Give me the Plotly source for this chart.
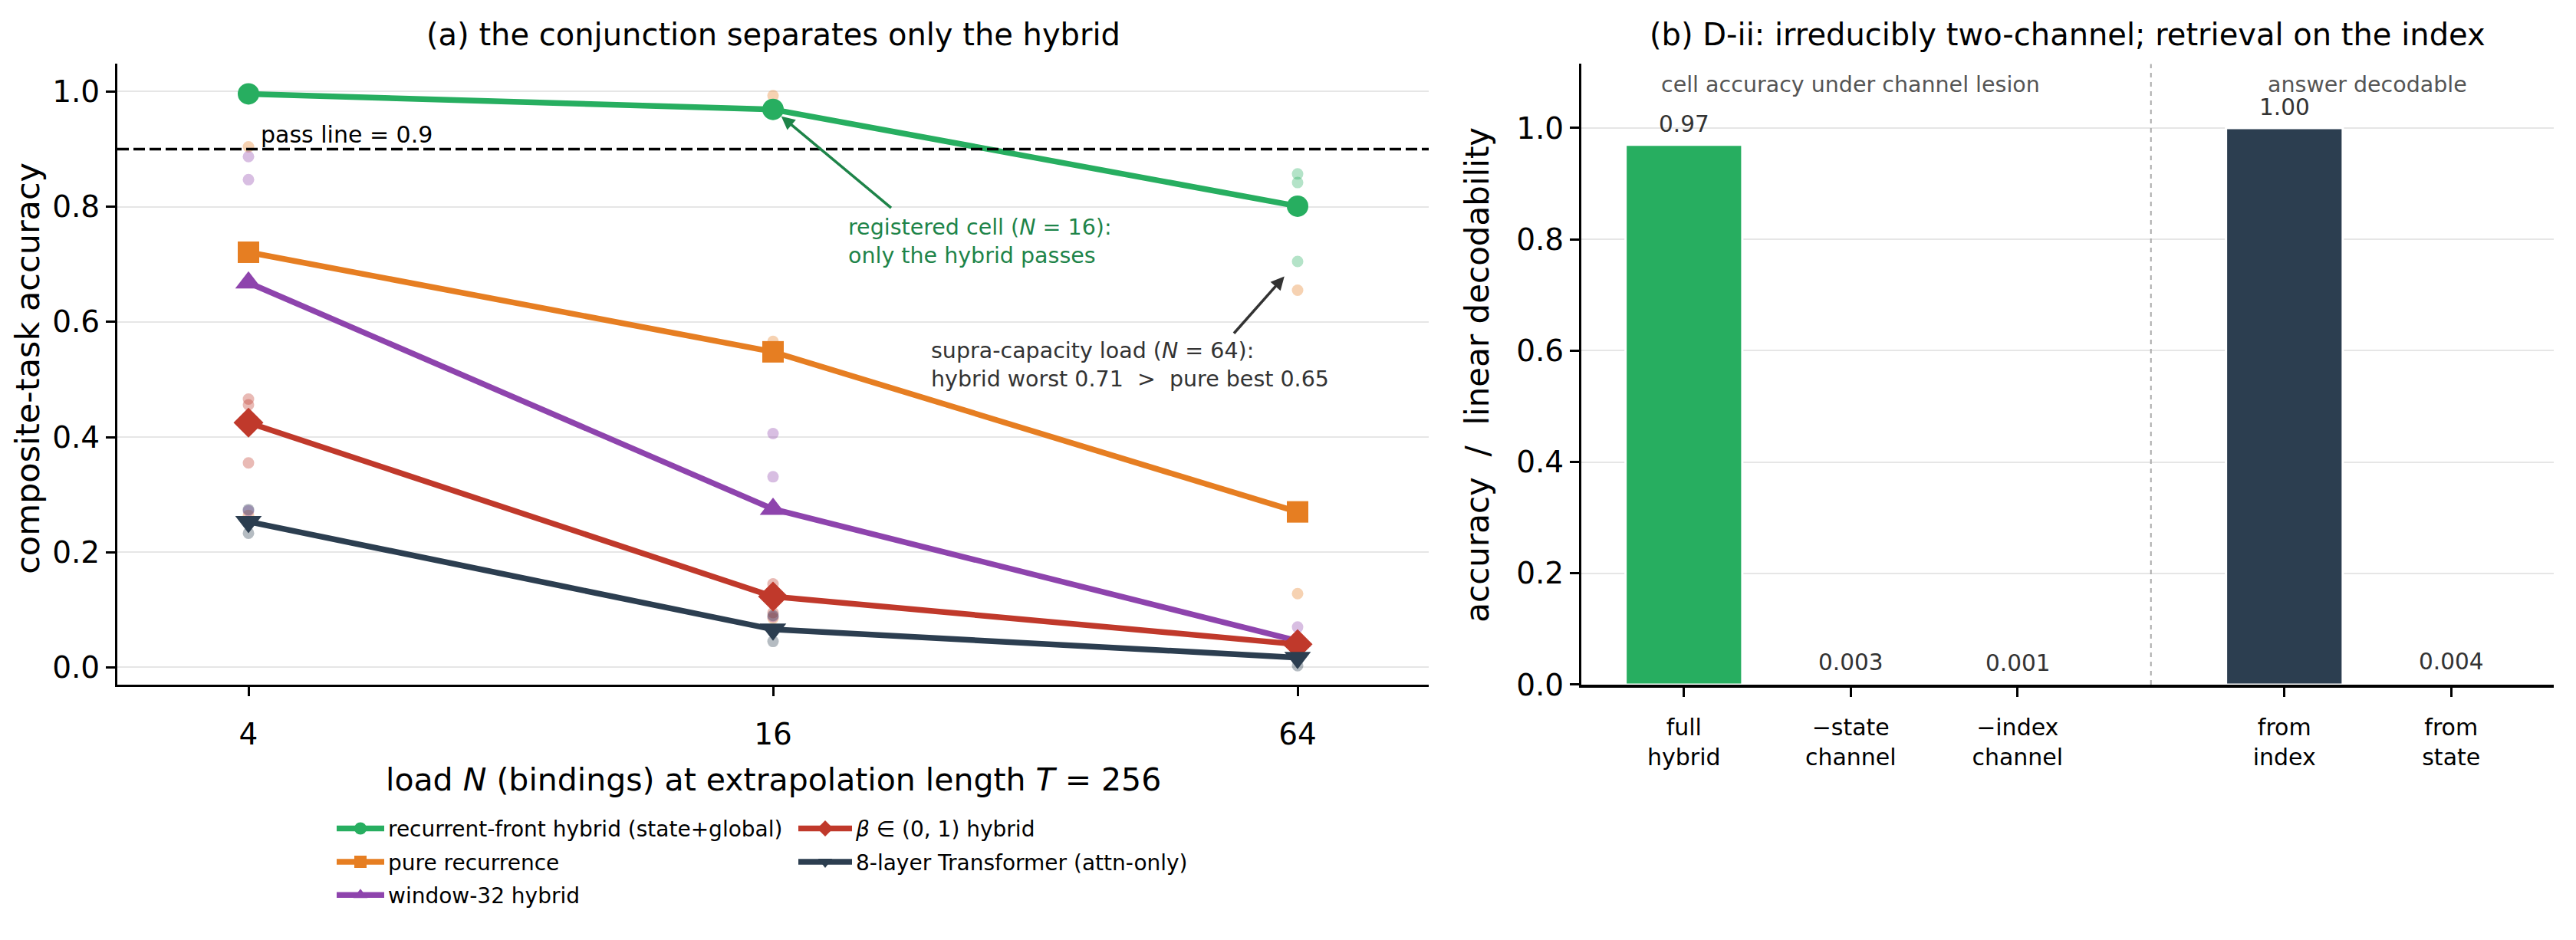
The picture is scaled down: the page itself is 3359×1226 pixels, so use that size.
import plotly.graph_objects as go

W, H = 3359, 1226
FONT = "DejaVu Sans"

# ---------------- data: panel (a) ----------------
loads = [4, 16, 64]
load_labels = [str(n) for n in loads]

hybrid_mean = [0.996, 0.969, 0.801]
pure_mean = [0.721, 0.548, 0.270]
window_mean = [0.668, 0.275, 0.046]
beta_mean = [0.425, 0.123, 0.040]
trans_mean = [0.253, 0.066, 0.017]

# per-seed values (3 seeds per load)
hybrid_seeds = [[1.000, 0.995, 0.993], [0.975, 0.970, 0.962], [0.857, 0.842, 0.705]]
pure_seeds = [[0.995, 0.904, 0.264], [0.993, 0.566, 0.085], [0.655, 0.128, 0.027]]
window_seeds = [[0.887, 0.847, 0.272], [0.406, 0.331, 0.088], [0.070, 0.045, 0.022]]
beta_seeds = [[0.466, 0.456, 0.355], [0.145, 0.125, 0.095], [0.052, 0.040, 0.028]]
trans_seeds = [[0.274, 0.252, 0.233], [0.090, 0.064, 0.045], [0.030, 0.018, 0.003]]

series_names = [
    "recurrent-front hybrid (state+global)",
    "pure recurrence",
    "window-32 hybrid",
    "<i>β</i> ∈ (0, 1) hybrid",
    "8-layer Transformer (attn-only)",
]
pass_line = 0.9

# ---------------- data: panel (b) ----------------
bar_labels = ["full<br>hybrid", "−state<br>channel", "−index<br>channel", "from<br>index", "from<br>state"]
bar_values = [0.97, 0.003, 0.001, 1.00, 0.004]
bar_groups = ["cell accuracy under channel lesion", "answer decodable"]
bar_group_of = [0, 0, 0, 1, 1]

# ---------------- styles ----------------
GREEN, ORANGE, PURPLE, RED, DARK = "#27ae60", "#e67e22", "#8e44ad", "#c0392b", "#2c3e50"
colors = [GREEN, ORANGE, PURPLE, RED, DARK]
symbols = ["circle", "square", "triangle-up", "diamond", "triangle-down"]
msizes = [28, 28, 30, 30, 30]
legend_ref = ["legend", "legend", "legend", "legend2", "legend2"]
bar_colors = [GREEN, ORANGE, PURPLE, DARK, ORANGE]

means = [hybrid_mean, pure_mean, window_mean, beta_mean, trans_mean]
seeds = [hybrid_seeds, pure_seeds, window_seeds, beta_seeds, trans_seeds]

fig = go.Figure()

# seed dots
for c, sd in zip(colors, seeds):
    xs, ys = [], []
    for lab, vals in zip(load_labels, sd):
        for v in vals:
            xs.append(lab)
            ys.append(v)
    fig.add_trace(go.Scatter(x=xs, y=ys, mode="markers", showlegend=False,
                             marker=dict(color=c, size=15, opacity=0.35),
                             xaxis="x", yaxis="y", hoverinfo="skip"))

# mean lines
for i, (name, m) in enumerate(zip(series_names, means)):
    fig.add_trace(go.Scatter(x=load_labels, y=m, mode="lines+markers", name=name,
                             line=dict(color=colors[i], width=7.5),
                             marker=dict(symbol=symbols[i], size=msizes[i], color=colors[i]),
                             legend=legend_ref[i], legendgroup=f"g{i}",
                             xaxis="x", yaxis="y"))

# bars (panel b): a gap separates the two groups
GROUP_GAP = 0.6
bar_pos = [i + GROUP_GAP * g for i, g in enumerate(bar_group_of)]
fig.add_trace(go.Bar(x=bar_pos, y=bar_values, width=0.7,
                     marker=dict(color=bar_colors, line=dict(color="white", width=3)),
                     showlegend=False, xaxis="x2", yaxis="y2"))

ydom = [1 - 910 / H, 1 - 85 / H]
axis_common = dict(showline=True, linecolor="black", ticks="outside", ticklen=12,
                   tickwidth=3, tickcolor="black", zeroline=False)

fig.update_layout(
    width=W, height=H, margin=dict(l=0, r=0, t=0, b=0),
    paper_bgcolor="white", plot_bgcolor="white",
    font=dict(family=FONT, color="black"),
    xaxis=dict(domain=[153 / W, 1863 / W], type="category", range=[-0.25, 2.25],
               linewidth=3, showgrid=False, tickfont=dict(size=39), anchor="y",
               ticklabelstandoff=16, **axis_common),
    yaxis=dict(domain=ydom, range=[-0.03, 1.048], tick0=0, dtick=0.2, tickformat=".1f",
               linewidth=3, showgrid=True, gridcolor="#e6e6e6", gridwidth=2,
               tickfont=dict(size=39), anchor="x", **axis_common),
    xaxis2=dict(domain=[2062 / W, 3330 / W], range=[-0.615, 5.215], tickvals=bar_pos,
                ticktext=bar_labels, linewidth=4, showgrid=False, tickfont=dict(size=30),
                anchor="y2", layer="below traces", ticklabelstandoff=14, **axis_common),
    yaxis2=dict(domain=ydom, range=[0, 1.115], tick0=0, dtick=0.2, tickformat=".1f",
                linewidth=3, showgrid=True, gridcolor="#e6e6e6", gridwidth=2,
                tickfont=dict(size=39), anchor="x2", **axis_common),
    legend=dict(x=434 / W, y=1 - 1076 / H, xanchor="left", yanchor="top",
                orientation="v", font=dict(size=28), tracegroupgap=4, itemwidth=62,
                bgcolor="rgba(0,0,0,0)"),
    legend2=dict(x=1036 / W, y=1 - 1076 / H, xanchor="left", yanchor="top",
                 orientation="v", font=dict(size=28), tracegroupgap=4, itemwidth=70,
                 bgcolor="rgba(0,0,0,0)"),
)

# pass line
fig.add_shape(type="line", xref="x domain", x0=0, x1=1, yref="y", y0=pass_line, y1=pass_line,
              line=dict(color="black", width=3.5, dash="15px,6px"))
# dotted separator in panel (b)
sep_x = (bar_pos[2] + bar_pos[3]) / 2
fig.add_shape(type="line", xref="x2", x0=sep_x, x1=sep_x, yref="y2 domain", y0=0, y1=1,
              line=dict(color="#aaaaaa", width=2, dash="6px,6px"))

C = dict(xanchor="center", yanchor="middle", showarrow=False)
ann = []
# titles
ann.append(dict(text="(a) the conjunction separates only the hybrid", xref="paper", yref="paper",
                x=1008 / W, y=1 - 46 / H, font=dict(size=40), **C))
ann.append(dict(text="(b) D-ii: irreducibly two-channel; retrieval on the index", xref="paper",
                yref="paper", x=2696 / W, y=1 - 46 / H, font=dict(size=40), **C))
# axis titles
ann.append(dict(text="load <i>N</i> (bindings) at extrapolation length <i>T</i> = 256",
                xref="paper", yref="paper", x=1008 / W, y=1 - 1036 / H, font=dict(size=41), **C))
ann.append(dict(text="composite-task accuracy", xref="paper", yref="paper", x=36 / W,
                y=1 - 490 / H, textangle=-90, font=dict(size=43), **C))
ann.append(dict(text="accuracy\u00a0\u00a0/\u00a0\u00a0linear decodability", xref="paper",
                yref="paper", x=1927 / W, y=1 - 498 / H, textangle=-90, font=dict(size=42), **C))
# pass line label
ann.append(dict(text=f"pass line = {pass_line}", xref="paper", yref="y", x=338 / W, y=pass_line,
                xanchor="left", yanchor="bottom", showarrow=False, font=dict(size=30)))
# green annotation (category axis: annotation x uses the category index)
ann.append(dict(text="registered cell (<i>N</i> = 16):<br>only the hybrid passes", xref="paper",
                yref="paper", x=1104 / W, y=1 - 321 / H, xanchor="left", yanchor="middle",
                align="left", showarrow=False, font=dict(size=28.5, color="#1e8449")))
ann.append(dict(text="\u00a0", x=loads.index(16), y=hybrid_mean[1], xref="x", yref="y",
                showarrow=True, ax=156, ay=130, arrowcolor="#1e8449", arrowwidth=3.5,
                arrowhead=2, arrowsize=1, standoff=14, font=dict(size=3)))
# gray annotation
ann.append(dict(text="supra-capacity load (<i>N</i> = 64):<br>hybrid worst 0.71\u00a0\u00a0>\u00a0\u00a0pure best 0.65",
                xref="paper", yref="paper", x=1212 / W, y=1 - 485 / H, xanchor="left",
                yanchor="middle", align="left", showarrow=False,
                font=dict(size=28.5, color="#333333")))
ann.append(dict(text="\u00a0", x=loads.index(64), y=min(hybrid_seeds[2]), xref="x", yref="y",
                showarrow=True, ax=-85, ay=96, arrowcolor="#333333", arrowwidth=3.5,
                arrowhead=2, arrowsize=1, standoff=26, font=dict(size=3)))
# panel (b) group labels
for g, label in enumerate(bar_groups):
    members = [p for p, gg in zip(bar_pos, bar_group_of) if gg == g]
    ann.append(dict(text=label, xref="x2", yref="y2", x=sum(members) / len(members), y=1.077,
                    font=dict(size=28.5, color="#555555"), **C))
# bar value labels
for p, v in zip(bar_pos, bar_values):
    txt = f"{v:.2f}" if v >= 0.1 else f"{v:.3f}"
    ann.append(dict(text=txt, xref="x2", yref="y2", x=p, y=v, xanchor="center",
                    yanchor="bottom", yshift=8, showarrow=False,
                    font=dict(size=29.5, color="#333333")))

fig.update_layout(annotations=ann)
fig.write_html("out.html")
